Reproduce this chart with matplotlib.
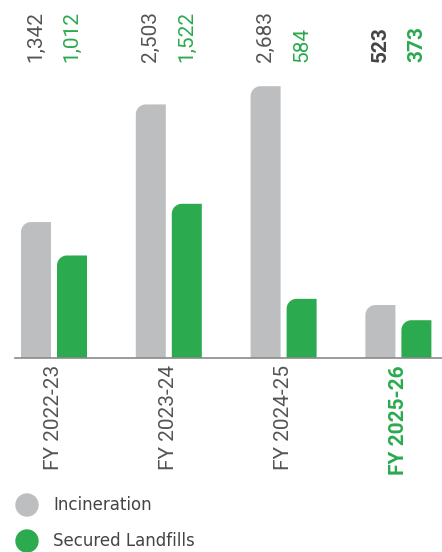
import numpy as np
import matplotlib
matplotlib.use("Agg")
import matplotlib.pyplot as plt
from matplotlib.path import Path
from matplotlib.patches import PathPatch, Circle
from matplotlib import transforms

# Data
years = ["FY 2022-23", "FY 2023-24", "FY 2024-25", "FY 2025-26"]
incineration = [1342, 2503, 2683, 523]
landfills = [1012, 1522, 584, 373]
value_labels_inc = ["1,342", "2,503", "2,683", "523"]
value_labels_land = ["1,012", "1,522", "584", "373"]
series_names = ["Incineration", "Secured Landfills"]

GREY = "#BDBEC0"
GREEN = "#2BAA4F"
TEXT_GREY = "#555555"
TEXT_GREEN = "#2BAA4F"

W, H = 442, 552
DPI = 100
fig = plt.figure(figsize=(W / DPI, H / DPI), dpi=DPI)
plt.rcParams["font.family"] = ["Roboto", "DejaVu Sans"]

# axes geometry (pixels)
ax_left_px, ax_right_px = 15, 442
base_px, top_px = 358, 60
ax = fig.add_axes([ax_left_px / W, (H - base_px) / H,
                   (ax_right_px - ax_left_px) / W, (base_px - top_px) / H])

px_per_unit_y = 0.1013
ymax = (base_px - top_px) / px_per_unit_y
group_px = 114.8
first_center_px = 54
xmin = -(first_center_px - ax_left_px) / group_px
xmax = (ax_right_px - first_center_px) / group_px
ax.set_xlim(xmin, xmax)
ax.set_ylim(0, ymax)

bar_w = 30 / group_px
offset = 18 / group_px
radius_px = 10
rx = radius_px / group_px
ry = radius_px / px_per_unit_y


def rounded_bar(x_left, width, height, color):
    r_y = min(ry, height)
    t = np.linspace(np.pi, np.pi / 2, 20)
    cx, cy = x_left + rx, height - r_y
    arc = np.column_stack([cx + rx * np.cos(t), cy + r_y * np.sin(t)])
    verts = [(x_left, 0)] + arc.tolist() + [(x_left + width, height),
                                             (x_left + width, 0), (x_left, 0)]
    codes = [Path.MOVETO] + [Path.LINETO] * (len(verts) - 2) + [Path.CLOSEPOLY]
    ax.add_patch(PathPatch(Path(verts, codes), facecolor=color,
                           edgecolor="none"))


x = np.arange(len(years))
for i in range(len(years)):
    rounded_bar(x[i] - offset - bar_w / 2, bar_w, incineration[i], GREY)
    rounded_bar(x[i] + offset - bar_w / 2, bar_w, landfills[i], GREEN)

for s in ["top", "right", "left"]:
    ax.spines[s].set_visible(False)
ax.spines["bottom"].set_color("#8a8a8a")
ax.spines["bottom"].set_linewidth(1.2)
ax.set_xticks([])
ax.set_yticks([])

# value labels across the top
lbl_tr = transforms.blended_transform_factory(ax.transData, fig.transFigure)
label_y = (H - 62) / H
for i in range(len(years)):
    last = i == len(years) - 1
    fw = "bold" if last else "normal"
    ax.text(x[i] - offset, label_y, value_labels_inc[i], rotation=90,
            ha="center", va="bottom", fontsize=15,
            color="#444444" if last else TEXT_GREY,
            fontweight=fw, transform=lbl_tr)
    ax.text(x[i] + offset, label_y, value_labels_land[i], rotation=90,
            ha="center", va="bottom", fontsize=15, color=TEXT_GREEN,
            fontweight=fw, transform=lbl_tr)

# category labels below the axis
cat_y = (H - 365) / H
for i, yr in enumerate(years):
    last = i == len(years) - 1
    ax.text(x[i], cat_y, yr, rotation=90, ha="center", va="top",
            fontsize=15, color=TEXT_GREEN if last else TEXT_GREY,
            fontweight="bold" if last else "normal", transform=lbl_tr)

# legend
px = transforms.IdentityTransform()
for name, col, cy in [(series_names[0], GREY, 505), (series_names[1], GREEN, 541)]:
    fig.patches.append(Circle((27, H - cy), 11, color=col,
                              transform=px, figure=fig))
    fig.text(53 / W, (H - cy) / H, name, ha="left", va="center",
             fontsize=12, color="#444444", family="DejaVu Sans")

fig.savefig("out.png", dpi=DPI)
